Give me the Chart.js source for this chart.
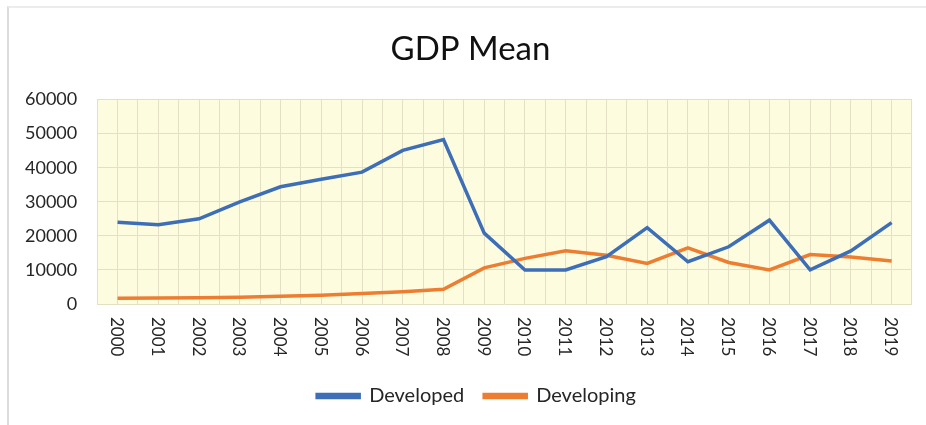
<!DOCTYPE html>
<html>
<head>
<meta charset="utf-8">
<script src="https://cdn.jsdelivr.net/npm/chart.js@4/dist/chart.umd.min.js"></script>
<style>
  html, body { margin: 0; padding: 0; background: #ffffff; }
  #wrap { position: relative; width: 926px; height: 425px; }
  #frame { position: absolute; left: 7px; top: 6px; width: 930px; height: 430px;
           border-left: 2px solid #dcdcdc; border-top: 2px solid #ececec; pointer-events: none; }
</style>
</head>
<body>
<div id="wrap">
  <canvas id="chart" width="926" height="425"></canvas>
  <div id="frame"></div>
</div>
<script>
const years = ['2000','2001','2002','2003','2004','2005','2006','2007','2008','2009',
               '2010','2011','2012','2013','2014','2015','2016','2017','2018','2019'];
const developed = [24000, 23300, 25000, 30000, 34400, 36600, 38700, 45100, 48300, 20800,
                   10000, 10000, 13900, 22400, 12400, 16800, 24600, 10000, 15600, 23900];
const developing = [1700, 1750, 1800, 2000, 2300, 2600, 3100, 3600, 4300, 10600,
                    13400, 15600, 14300, 11900, 16500, 12200, 10000, 14500, 13800, 12600];
const yTicks = [0, 10000, 20000, 30000, 40000, 50000, 60000];

const FONT = 'Lato, "Open Sans", sans-serif';
const TEXT = '#262626';
const GRID = '#e4e0c6';

// Fills the plotting area with the pale yellow background
const plotBackground = {
  id: 'plotBackground',
  beforeDraw(chart) {
    const { ctx, chartArea: a } = chart;
    ctx.save();
    ctx.fillStyle = '#fefcdf';
    ctx.fillRect(a.left, a.top, a.right - a.left, a.bottom - a.top);
    ctx.restore();
  }
};

// Year labels turned clockwise, reading from top to bottom
const yearLabels = {
  id: 'yearLabels',
  afterDraw(chart) {
    const scale = chart.scales.x;
    const { ctx } = chart;
    ctx.save();
    ctx.font = '17px ' + FONT;
    ctx.fillStyle = TEXT;
    ctx.textAlign = 'left';
    ctx.textBaseline = 'middle';
    scale.ticks.forEach((t, i) => {
      const x = scale.getPixelForTick(i);
      const y = scale.top + 13;
      ctx.save();
      ctx.translate(x, y);
      ctx.rotate(Math.PI / 2);
      ctx.fillText(years[i], 0, 1);
      ctx.restore();
    });
    ctx.restore();
  }
};

// Nudges the title and legend a little to the right of the canvas centre
const blockShift = {
  id: 'blockShift',
  afterLayout(chart) {
    const lg = chart.legend;
    if (lg) { lg.left += 18; lg.right += 18; }
    const tb = chart.titleBlock;
    if (tb) { tb.left += 12; tb.right += 12; }
  }
};

new Chart(document.getElementById('chart'), {
  type: 'line',
  data: {
    labels: years,
    datasets: [
      { label: 'Developed', data: developed, borderColor: '#3d6eb6', backgroundColor: '#3d6eb6',
        borderWidth: 3.5, pointRadius: 0, tension: 0 },
      { label: 'Developing', data: developing, borderColor: '#ed7d31', backgroundColor: '#ed7d31',
        borderWidth: 3.5, pointRadius: 0, tension: 0 }
    ]
  },
  options: {
    responsive: false,
    animation: false,
    layout: { padding: { left: 5, right: 14, top: 0, bottom: 9 } },
    plugins: {
      title: {
        display: true, text: 'GDP Mean', color: '#111',
        font: { family: FONT, size: 33, weight: 'normal' },
        padding: { top: 30, bottom: 30 }
      },
      legend: {
        position: 'bottom',
        labels: {
          color: TEXT, font: { family: FONT, size: 20 },
          boxWidth: 42, boxHeight: 3, padding: 20
        }
      },
      tooltip: { enabled: false }
    },
    scales: {
      x: {
        type: 'category', offset: true,
        grid: { offset: true, color: GRID, lineWidth: 1, drawTicks: false },
        border: { display: false },
        ticks: { display: false },
        // room for the turned year labels
        afterFit(scale) { scale.height = 62; }
      },
      x2: {
        type: 'category', position: 'bottom', offset: true, display: true,
        grid: { offset: false, color: GRID, lineWidth: 1, drawTicks: false },
        border: { display: false },
        ticks: { display: false },
        afterFit(scale) { scale.height = 0; }
      },
      y: {
        min: 0, max: 60000,
        afterBuildTicks(scale) { scale.ticks = yTicks.map(v => ({ value: v })); },
        grid: { color: GRID, lineWidth: 1, drawTicks: false },
        border: { display: false },
        ticks: { color: TEXT, font: { family: FONT, size: 18 }, padding: 20,
                 callback: v => String(v) }
      }
    }
  },
  plugins: [plotBackground, yearLabels, blockShift]
});
</script>
</body>
</html>
